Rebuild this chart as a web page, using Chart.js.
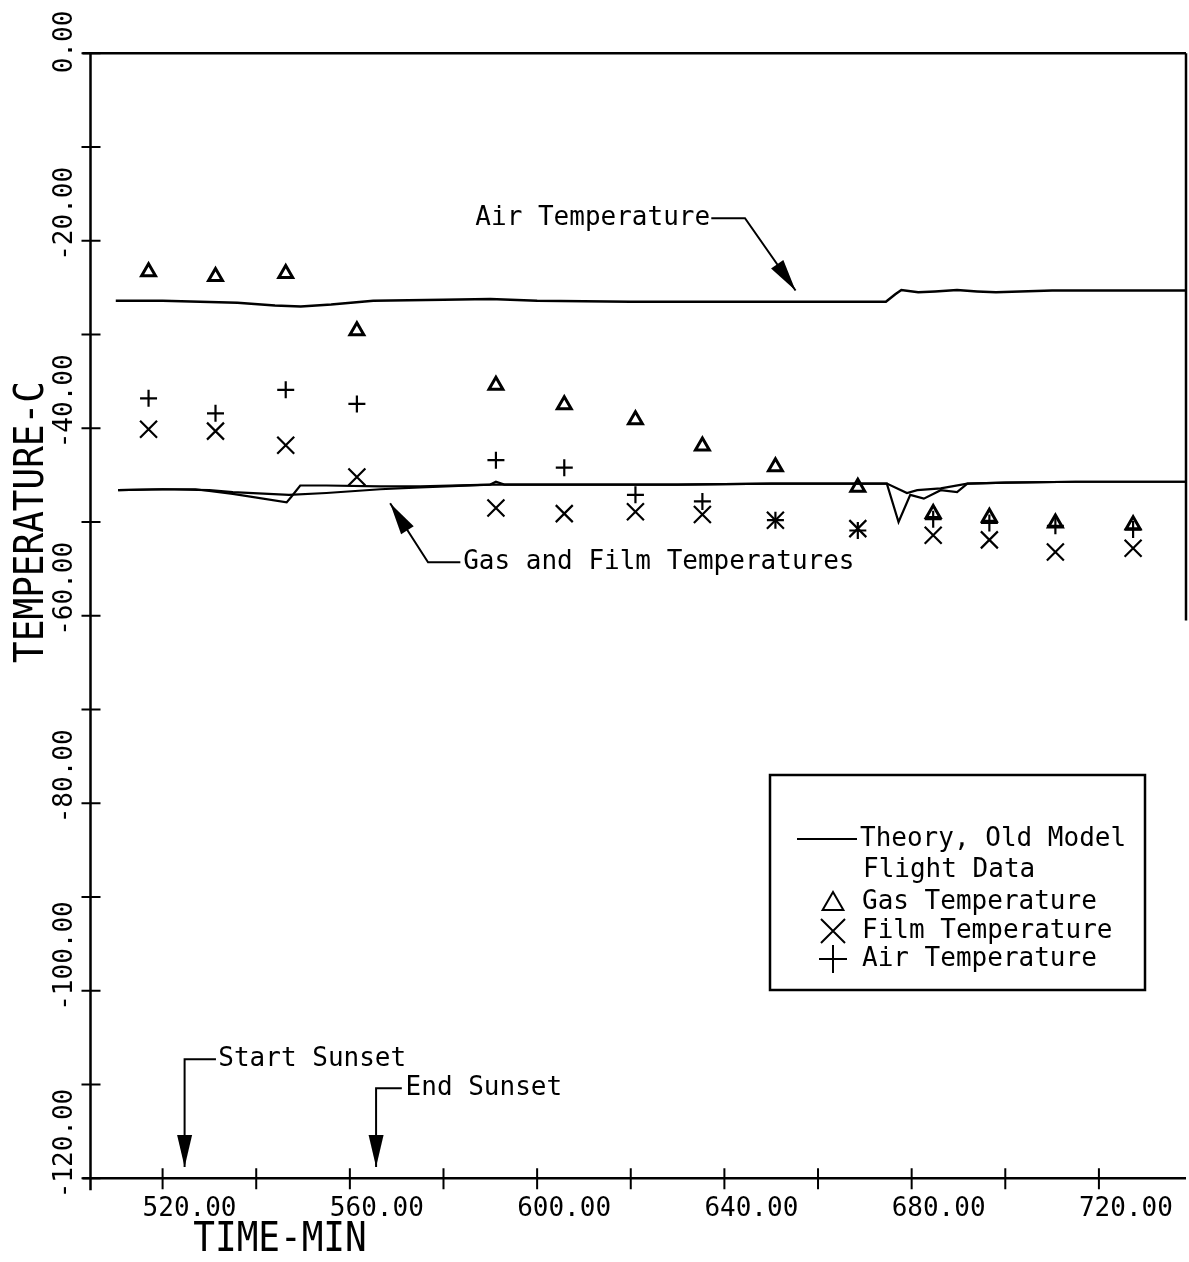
<!DOCTYPE html>
<html>
<head>
<meta charset="utf-8">
<title>Temperature vs time</title>
<script src="https://cdn.jsdelivr.net/npm/chart.js@4.4.1/dist/chart.umd.min.js"></script>
<style>
  html, body { margin: 0; padding: 0; background: #fff; overflow: hidden; }
  canvas { display: block; }
</style>
</head>
<body>
<canvas id="tempChart" width="1189" height="1262"></canvas>
<script>
// --- flight data samples (time in minutes, temperature in deg C) ---
const sampleTimes = [517.0, 531.3, 546.3, 561.5, 591.2, 605.8, 621.0, 635.3, 650.9, 668.5, 684.6, 696.6, 710.7, 727.3];
const gasTemps    = [-23.3, -23.8, -23.5, -29.6, -35.4, -37.5, -39.1, -41.9, -44.1, -46.3, -49.1, -49.5, -50.1, -50.3];
const filmTemps   = [-40.1, -40.3, -41.8, -45.2, -48.5, -49.1, -48.9, -49.2, -49.8, -50.7, -51.4, -51.9, -53.2, -52.8];
const airTemps    = [-36.8, -38.4, -35.9, -37.4, -43.4, -44.2, -47.1, -47.8, -49.8, -50.9, -49.7, -50.1, -50.4, -50.8];

// --- theory, old model ---
const airTheoryT = [510, 520, 536, 544, 549.5, 556, 565, 580, 590, 600, 620, 640, 660, 674.5, 676.5, 677.8, 681.4, 685, 689.7, 694, 698, 710, 738.6];
const airTheoryC = [-26.4, -26.4, -26.6, -26.9, -27.0, -26.8, -26.4, -26.3, -26.2, -26.4, -26.5, -26.5, -26.5, -26.5, -25.7, -25.25, -25.5, -25.4, -25.25, -25.4, -25.5, -25.3, -25.3];

const gasTheoryT = [510.5, 520, 527, 535, 546.5, 547.5, 549.4, 555, 566.5, 575, 590, 591.2, 593, 610, 630, 650, 670, 674.7, 677.2, 679.7, 682.6, 686.2, 689.7, 691.9, 700, 715, 738.6];
const gasTheoryC = [-46.6, -46.5, -46.5, -47.0, -47.9, -47.3, -46.1, -46.1, -46.2, -46.2, -46.0, -45.7, -46.0, -46.0, -46.0, -45.9, -45.9, -45.9, -50.0, -47.1, -47.5, -46.6, -46.8, -45.9, -45.8, -45.7, -45.7];

const filmTheoryT = [510.5, 520, 530, 535, 547, 555, 566.5, 575, 590, 610, 630, 650, 670, 674.7, 679, 681.2, 686.2, 691.9, 700, 715, 738.6];
const filmTheoryC = [-46.6, -46.5, -46.6, -46.8, -47.1, -46.9, -46.5, -46.3, -46.0, -46.0, -46.0, -45.9, -45.9, -45.9, -46.9, -46.6, -46.4, -45.9, -45.8, -45.7, -45.7];

// --- axes ---
const xTickMarks  = [520, 540, 560, 580, 600, 620, 640, 660, 680, 700, 720];
const xTickLabels = [520, 560, 600, 640, 680, 720];
const yTickMarks  = [0, -10, -20, -30, -40, -50, -60, -70, -80, -90, -100, -110, -120];
const yTickLabels = [0, -20, -40, -60, -80, -100, -120];
const rightEdgeEnd = -60.5;   // right frame line only runs down this far

// --- callouts: text anchor, then leader path ending at the arrow tip ---
const callouts = [
  { text: 'Air Temperature', at: [586.8, -17.6], path: [[637.2, -17.6], [644.4, -17.6], [655.2, -25.3]] },
  { text: 'Gas and Film Temperatures', at: [584.2, -54.3], path: [[583.6, -54.3], [576.7, -54.3], [568.6, -48.0]] },
  { text: 'Start Sunset', at: [531.9, -107.3], path: [[531.4, -107.3], [524.7, -107.3], [524.7, -118.8]] },
  { text: 'End Sunset', at: [571.9, -110.4], path: [[571.1, -110.4], [565.6, -110.4], [565.6, -118.8]] }
];

const pairs = (xs, ys) => xs.map((t, i) => ({ x: t, y: ys[i] }));

const MONO = '"DejaVu Sans Mono", "Liberation Mono", monospace';

function arrowHead(ctx, x0, y0, x1, y1) {
  const ang = Math.atan2(y1 - y0, x1 - x0);
  const len = 32, half = 7.5;
  ctx.beginPath();
  ctx.moveTo(x1, y1);
  ctx.lineTo(x1 - len * Math.cos(ang) + half * Math.sin(ang), y1 - len * Math.sin(ang) - half * Math.cos(ang));
  ctx.lineTo(x1 - len * Math.cos(ang) - half * Math.sin(ang), y1 - len * Math.sin(ang) + half * Math.cos(ang));
  ctx.closePath();
  ctx.fill();
}

// plotter-style frame, crossing ticks, labels, callouts and key
const plotterFrame = {
  id: 'plotterFrame',
  afterDatasetsDraw(chart) {
    const { ctx, chartArea: a, scales: { x, y } } = chart;
    ctx.save();
    ctx.strokeStyle = '#000';
    ctx.fillStyle = '#000';
    ctx.lineCap = 'butt';

    // box
    ctx.lineWidth = 2.5;
    ctx.beginPath();
    ctx.moveTo(a.left - 8, a.top); ctx.lineTo(a.right, a.top);
    ctx.moveTo(a.right, a.top); ctx.lineTo(a.right, y.getPixelForValue(rightEdgeEnd));
    ctx.moveTo(a.left, a.top); ctx.lineTo(a.left, a.bottom + 12);
    ctx.moveTo(a.left - 8, a.bottom); ctx.lineTo(a.right, a.bottom);
    ctx.stroke();

    // ticks cross the axis lines
    ctx.lineWidth = 2;
    ctx.beginPath();
    yTickMarks.forEach(v => {
      const py = y.getPixelForValue(v);
      ctx.moveTo(a.left - 9, py); ctx.lineTo(a.left + 10, py);
    });
    xTickMarks.forEach(v => {
      const px = x.getPixelForValue(v);
      ctx.moveTo(px, a.bottom - 10); ctx.lineTo(px, a.bottom + 11);
    });
    ctx.stroke();

    // tick labels start a little before their tick
    ctx.font = '26px ' + MONO;
    ctx.textAlign = 'left';
    ctx.textBaseline = 'middle';
    xTickLabels.forEach(v => {
      ctx.fillText(v.toFixed(2), x.getPixelForValue(v) - 20, a.bottom + 31);
    });
    yTickLabels.forEach(v => {
      ctx.save();
      ctx.translate(a.left - 25, y.getPixelForValue(v) + 20);
      ctx.rotate(-Math.PI / 2);
      ctx.fillText(v.toFixed(2), 0, 0);
      ctx.restore();
    });

    // axis titles
    ctx.font = '40px ' + MONO;
    ctx.textAlign = 'center';
    ctx.save();
    ctx.translate(280, a.bottom + 62);
    ctx.scale(0.9, 1);
    ctx.fillText('TIME-MIN', 0, 0);
    ctx.restore();
    ctx.save();
    ctx.translate(33, 522);
    ctx.rotate(-Math.PI / 2);
    ctx.scale(0.9, 1);
    ctx.fillText('TEMPERATURE-C', 0, 0);
    ctx.restore();

    // callouts with leader lines and arrows
    ctx.font = '26px ' + MONO;
    ctx.textAlign = 'left';
    ctx.lineWidth = 2;
    callouts.forEach(c => {
      ctx.fillText(c.text, x.getPixelForValue(c.at[0]), y.getPixelForValue(c.at[1]));
      const pts = c.path.map(p => [x.getPixelForValue(p[0]), y.getPixelForValue(p[1])]);
      ctx.beginPath();
      pts.forEach((p, i) => i ? ctx.lineTo(p[0], p[1]) : ctx.moveTo(p[0], p[1]));
      ctx.stroke();
      const n = pts.length;
      arrowHead(ctx, pts[n - 2][0], pts[n - 2][1], pts[n - 1][0], pts[n - 1][1]);
    });

    // key
    const kx = 770, ky = 775, kw = 375, kh = 215;
    ctx.lineWidth = 2.5;
    ctx.strokeRect(kx, ky, kw, kh);
    ctx.lineWidth = 2;
    ctx.beginPath();
    ctx.moveTo(kx + 27, ky + 64); ctx.lineTo(kx + 87, ky + 64);
    ctx.stroke();
    ctx.fillText('Theory, Old Model', kx + 90, ky + 64);
    ctx.fillText('Flight Data', kx + 93, ky + 95);
    const keyRows = [
      ['Gas Temperature', 'triangle', 12, ky + 127],
      ['Film Temperature', 'crossRot', 17, ky + 156],
      ['Air Temperature', 'cross', 14, ky + 184]
    ];
    keyRows.forEach(r => {
      ctx.save();
      ctx.fillStyle = 'rgba(0,0,0,0)';
      Chart.helpers.drawPoint(ctx, { pointStyle: r[1], radius: r[2], borderWidth: 2 }, kx + 63, r[3] + (r[1] === 'triangle' ? 2 : 0));
      ctx.restore();
      ctx.fillText(r[0], kx + 92, r[3]);
    });

    ctx.restore();
  }
};

const ctx = document.getElementById('tempChart').getContext('2d');
const lineStyle = { showLine: true, borderColor: '#000', borderWidth: 2.5, pointRadius: 0, tension: 0, fill: false };
const markStyle = { borderColor: '#000', backgroundColor: 'rgba(0,0,0,0)', showLine: false };

new Chart(ctx, {
  type: 'scatter',
  data: {
    datasets: [
      { label: 'Theory, air', data: pairs(airTheoryT, airTheoryC), ...lineStyle },
      { label: 'Theory, gas', data: pairs(gasTheoryT, gasTheoryC), ...lineStyle, borderWidth: 2.2 },
      { label: 'Theory, film', data: pairs(filmTheoryT, filmTheoryC), ...lineStyle, borderWidth: 2.2 },
      { label: 'Gas Temperature', data: pairs(sampleTimes, gasTemps), ...markStyle, pointStyle: 'triangle', pointRadius: 8, borderWidth: 3 },
      { label: 'Film Temperature', data: pairs(sampleTimes, filmTemps), ...markStyle, pointStyle: 'crossRot', pointRadius: 12, borderWidth: 2.2 },
      { label: 'Air Temperature', data: pairs(sampleTimes, airTemps), ...markStyle, pointStyle: 'cross', pointRadius: 8.5, borderWidth: 2.2 }
    ]
  },
  options: {
    responsive: false,
    animation: false,
    events: [],
    devicePixelRatio: 1,
    layout: { autoPadding: false, padding: { left: 90.5, right: 3, top: 53.3, bottom: 83.7 } },
    plugins: { legend: { display: false }, tooltip: { enabled: false } },
    scales: {
      x: { type: 'linear', bounds: 'data', min: 504.6, max: 738.6, display: false },
      y: { type: 'linear', bounds: 'data', min: -120, max: 0, display: false }
    }
  },
  plugins: [plotterFrame]
});
</script>
</body>
</html>
